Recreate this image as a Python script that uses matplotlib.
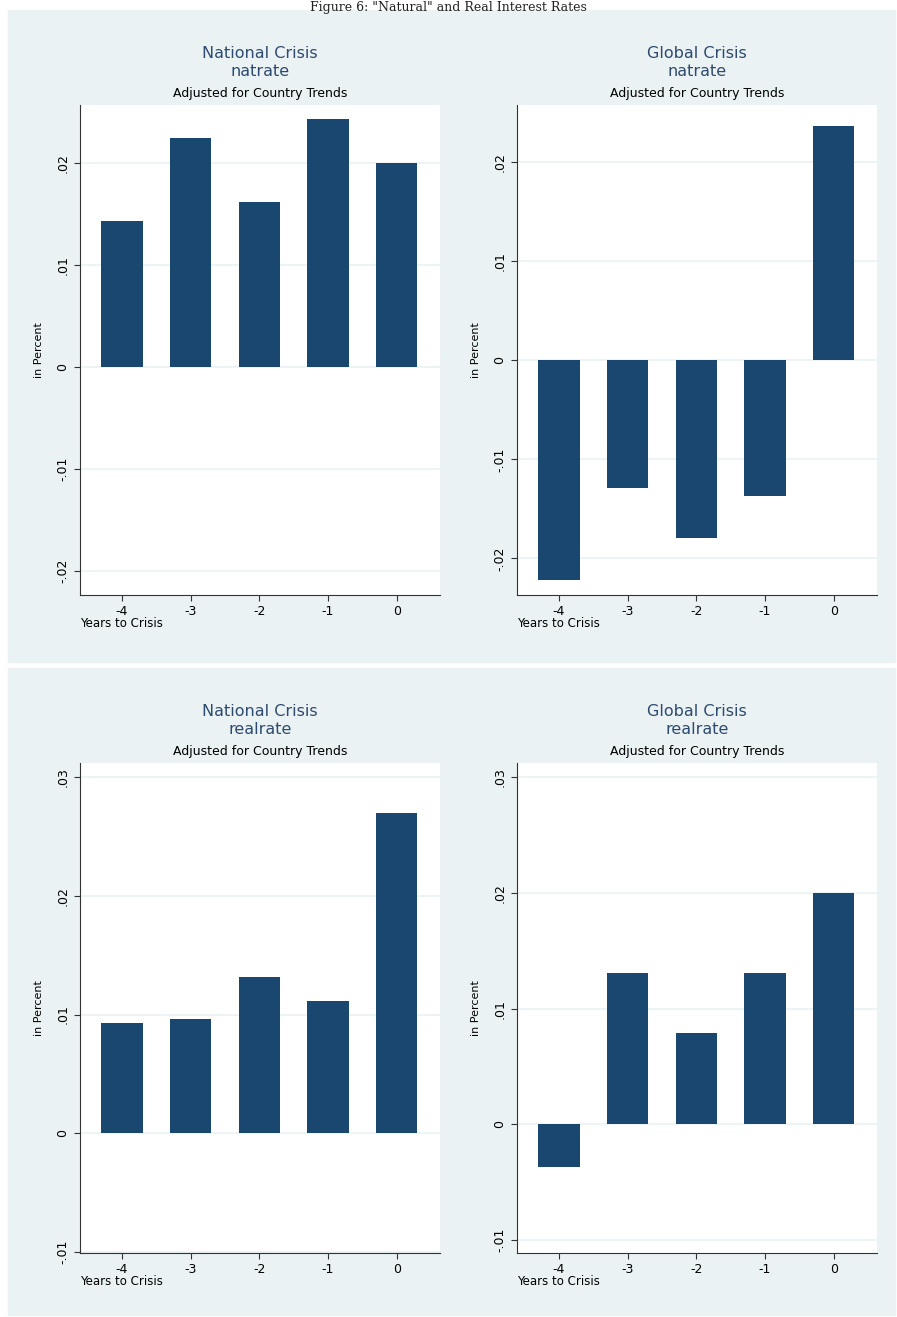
import matplotlib
matplotlib.use('Agg')
import matplotlib.pyplot as plt
import matplotlib.patches as mpatches

years = [-4, -3, -2, -1, 0]
nat_natrate = [0.0143, 0.0225, 0.0162, 0.0243, 0.0200]
glob_natrate = [-0.0222, -0.0129, -0.0179, -0.0137, 0.0237]
nat_realrate = [0.0093, 0.0096, 0.0132, 0.0111, 0.0270]
glob_realrate = [-0.0037, 0.0131, 0.0079, 0.0131, 0.0200]

panels = [
    ('National Crisis', 'natrate', nat_natrate, [-0.02, -0.01, 0, 0.01, 0.02], (-0.0224, 0.0257)),
    ('Global Crisis', 'natrate', glob_natrate, [-0.02, -0.01, 0, 0.01, 0.02], (-0.0237, 0.0258)),
    ('National Crisis', 'realrate', nat_realrate, [-0.01, 0, 0.01, 0.02, 0.03], (-0.0101, 0.0312)),
    ('Global Crisis', 'realrate', glob_realrate, [-0.01, 0, 0.01, 0.02, 0.03], (-0.0111, 0.0312)),
]

W, H = 897, 1317
BAR = '#1a476f'
BG = '#eaf2f3'
fig = plt.figure(figsize=(W / 100, H / 100), dpi=100)

# panel backgrounds
for (y0, y1) in [(10, 662), (668, 1315)]:
    fig.patches.append(mpatches.Rectangle((8 / W, 1 - y1 / H), 887 / W, (y1 - y0) / H,
                                          transform=fig.transFigure, color=BG, zorder=-5))
fig.text(0.5, 1 - 1 / H, 'Figure 6: "Natural" and Real Interest Rates', ha='center', va='top',
         fontsize=9, family='DejaVu Serif', color='#222222')

def fmt(v):
    if v == 0:
        return '0'
    s = f'{v:.2f}'
    return s.replace('0.', '.')

pos = [(80, 105), (517, 105), (80, 763), (517, 763)]
for (title, var, vals, ticks, ylim), (x0, y0) in zip(panels, pos):
    ax = fig.add_axes([x0 / W, 1 - (y0 + 490) / H, 360 / W, 490 / H])
    ax.bar(years, vals, width=0.6, color=BAR, zorder=3)
    ax.set_xlim(-4.61, 0.63)
    ax.set_ylim(*ylim)
    ax.set_xticks(years)
    ax.set_xticklabels([str(y) for y in years], fontsize=9)
    ax.set_yticks(ticks)
    ax.set_yticklabels([fmt(t) for t in ticks], rotation=90, va='center', fontsize=9)
    ax.grid(axis='y', color=BG, lw=1.2, zorder=0)
    for s in ['top', 'right']:
        ax.spines[s].set_visible(False)
    for s in ['left', 'bottom']:
        ax.spines[s].set_color('#333333')
    ax.tick_params(length=4, color='#333333')
    ax.set_ylabel('in Percent', fontsize=8)
    ax.yaxis.set_label_coords(-0.1, 0.5)
    ax.text(0, -0.045, 'Years to Crisis', transform=ax.transAxes, fontsize=8.5, va='top')
    cx = (x0 + 180) / W
    fig.text(cx, 1 - (y0 - 52) / H, title, ha='center', va='center', fontsize=11.5, color='#2e4a6e')
    fig.text(cx, 1 - (y0 - 34) / H, var, ha='center', va='center', fontsize=11.5, color='#2e4a6e')
    fig.text(cx, 1 - (y0 - 12) / H, 'Adjusted for Country Trends', ha='center', va='center', fontsize=9)

fig.savefig('out.png', dpi=100)
